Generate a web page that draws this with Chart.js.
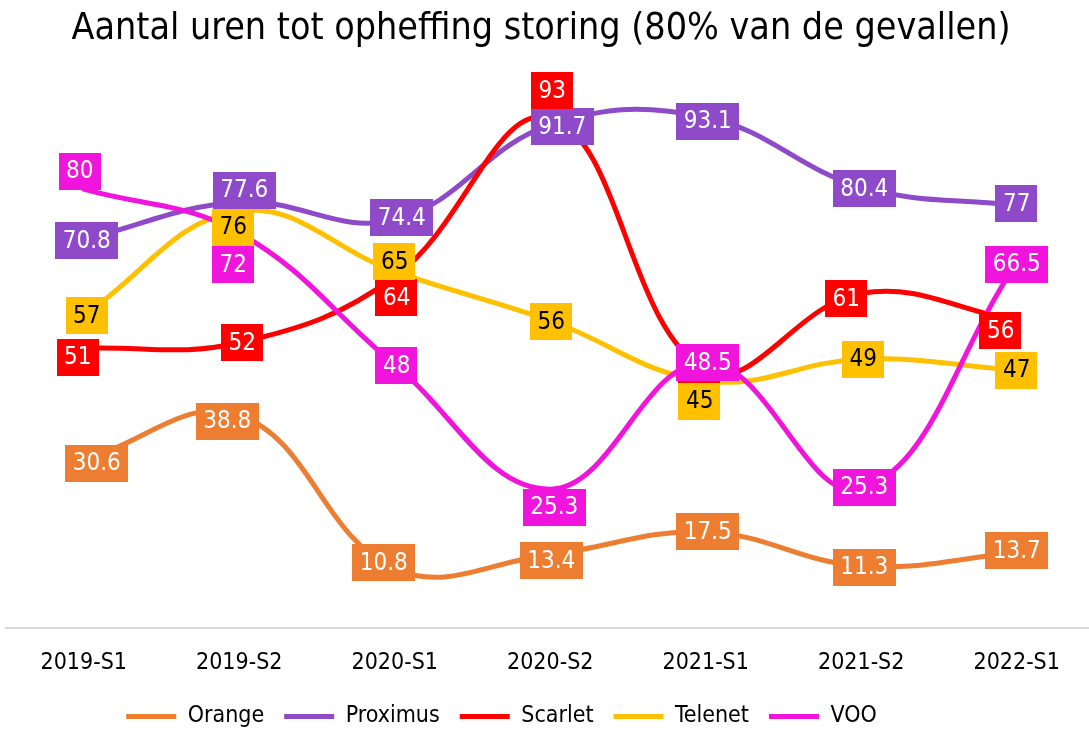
<!DOCTYPE html>
<html>
<head>
<meta charset="utf-8">
<script src="https://cdn.jsdelivr.net/npm/chart.js@4.4.1/dist/chart.umd.min.js"></script>
<style>
html,body{margin:0;padding:0;background:#fff;overflow:hidden}
#wrap{width:1089px;height:729px;position:relative}
</style>
</head>
<body>
<div id="wrap"><canvas id="c" width="1089" height="729"></canvas></div>
<script>
// ---- data ----
const categories = ['2019-S1','2019-S2','2020-S1','2020-S2','2021-S1','2021-S2','2022-S1'];
const orange   = [30.6, 38.8, 10.8, 13.4, 17.5, 11.3, 13.7];
const proximus = [70.8, 77.6, 74.4, 91.7, 93.1, 80.4, 77];
const scarlet  = [51, 52, 64, 93, 47, 61, 56];
const telenet  = [57, 76, 65, 56, 45, 49, 47];
const voo      = [80, 72, 48, 25.3, 48.5, 25.3, 66.5];
const seriesNames = ['Orange', 'Proximus', 'Scarlet', 'Telenet', 'VOO'];
const titleText = 'Aantal uren tot opheffing storing (80% van de gevallen)';

// ---- styling ----
const FONT = '"DejaVu Sans Condensed", "DejaVu Sans", sans-serif';
const colors = ['#ED7D31', '#8E4AC8', '#FF0000', '#FFC000', '#F014DC'];
const labelTextColors = ['#fff', '#fff', '#fff', '#000', '#fff'];
// manual label displacements (px) as placed in the original chart
const labelOffsets = [
  [[13,3],[-12,6],[-11,-6],[1,6],[2,0],[3,1],[0,-2]],
  [[3,1],[5,-12],[7,-2],[12,2],[2,4],[3,2],[0,-2]],
  [[-6,9],[3,0],[2,21],[2,-27],[-6,-4],[-15,5],[-16,10]],
  [[3,0],[-6,16],[0,-10],[1,1],[-6,20],[2,0],[0,0]],
  [[-4,-18],[-6,32],[2,1],[4,18],[2,1],[3,-2],[0,1]]
];

const seriesValues = [orange, proximus, scarlet, telenet, voo];

const datasets = seriesNames.map((name, k) => ({
  label: name,
  data: seriesValues[k].map((v, i) => ({x: i, y: v})),
  borderColor: colors[k],
  backgroundColor: colors[k],
  borderWidth: 5,
  borderCapStyle: 'round',
  borderJoinStyle: 'round',
  pointRadius: 0,
  pointHoverRadius: 0,
  tension: 0.4,
  fill: false,
  order: seriesNames.length - k
}));

const labelPlugin = {
  id: 'boxLabels',
  afterDatasetsDraw(chart) {
    const ctx = chart.ctx;
    ctx.save();
    ctx.font = '24px ' + FONT;
    ctx.textAlign = 'center';
    ctx.textBaseline = 'middle';
    for (let k = 0; k < seriesNames.length; k++) {
      const meta = chart.getDatasetMeta(k);
      meta.data.forEach((pt, i) => {
        const txt = String(seriesValues[k][i]);
        const off = labelOffsets[k][i];
        const cx = pt.x + off[0];
        const cy = pt.y + off[1];
        const w = ctx.measureText(txt).width + 15;
        const h = 37;
        ctx.fillStyle = colors[k];
        ctx.fillRect(Math.round(cx - w / 2), Math.round(cy - h / 2), Math.round(w), h);
        ctx.fillStyle = labelTextColors[k];
        ctx.fillText(txt, cx, cy + 1);
      });
    }
    ctx.restore();
  }
};

const boxShift = {
  id: 'boxShift',
  afterLayout(chart) {
    if (chart.legend) chart.legend.right -= 92;
    if (chart.titleBlock) chart.titleBlock.right -= 13;
  }
};

new Chart(document.getElementById('c'), {
  type: 'line',
  data: { datasets },
  options: {
    responsive: false,
    animation: false,
    events: [],
    layout: { padding: { left: 6, right: 0, top: 0, bottom: -9 } },
    scales: {
      x: {
        type: 'linear',
        min: -0.5,
        max: 6.465,
        afterBuildTicks: s => { s.ticks = categories.map((_, i) => ({ value: i })); },
        afterFit: s => { s.height = 57; },
        grid: { display: false, drawTicks: false },
        border: { display: true, color: '#D9D9D9', width: 2 },
        ticks: {
          padding: 21,
          maxRotation: 0,
          autoSkip: false,
          color: '#000',
          font: { family: FONT, size: 23 },
          callback: v => categories[v]
        }
      },
      y: {
        display: false,
        min: 0,
        max: 100
      }
    },
    plugins: {
      title: {
        display: true,
        text: titleText,
        color: '#000',
        font: { family: FONT, size: 37.3, weight: 'normal' },
        padding: { top: 7, bottom: 27.6 }
      },
      legend: {
        display: true,
        position: 'bottom',
        labels: {
          sort: (a, b) => a.datasetIndex - b.datasetIndex,
          usePointStyle: true,
          pointStyle: 'line',
          pointStyleWidth: 50,
          boxHeight: 23,
          padding: 20,
          color: '#000',
          font: { family: FONT, size: 23 }
        }
      },
      tooltip: { enabled: false }
    }
  },
  plugins: [labelPlugin, boxShift]
});
</script>
</body>
</html>
